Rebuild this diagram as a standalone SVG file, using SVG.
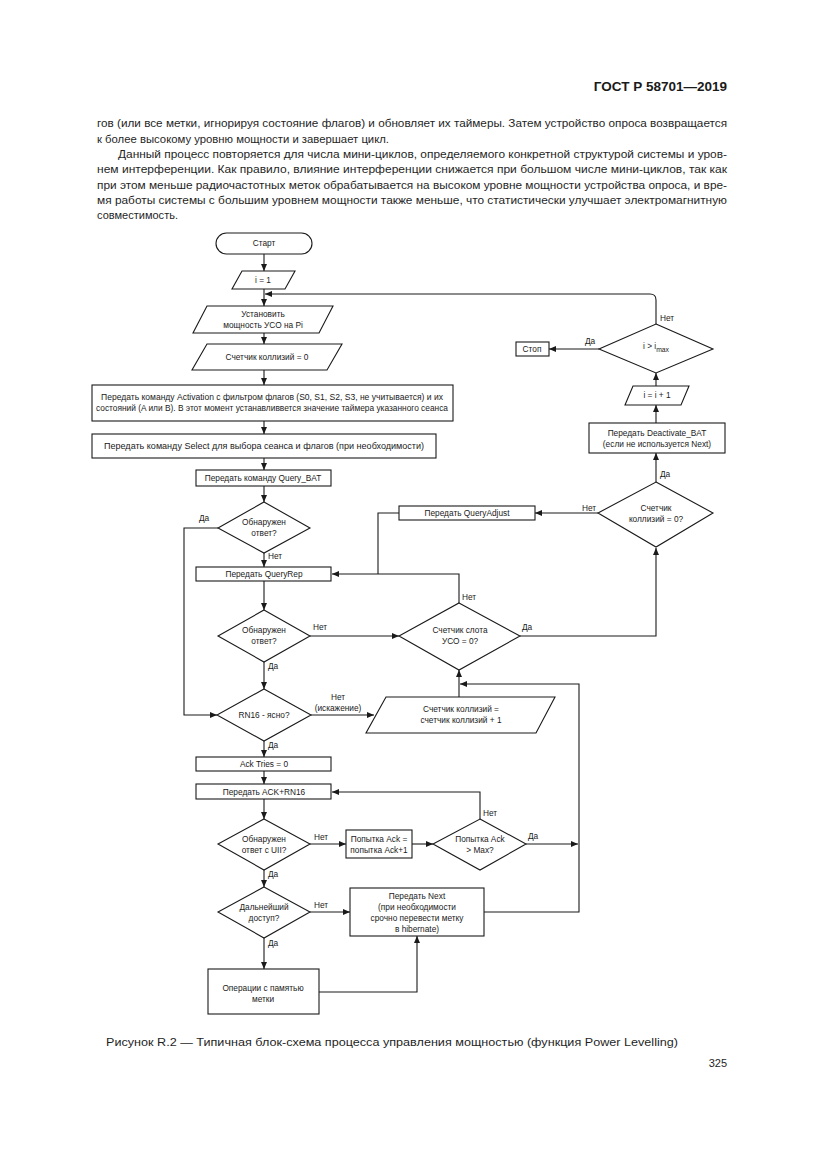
<svg xmlns="http://www.w3.org/2000/svg" width="826" height="1169" viewBox="0 0 826 1169">
<style>
.bg{fill:#fff}
.n{fill:#fff;stroke:#1a1a1a;stroke-width:1.1}
.c{fill:none;stroke:#1a1a1a;stroke-width:1.1}
.t{font-family:"Liberation Sans",Arial,sans-serif;font-size:8.3px;fill:#1a1a1a;text-anchor:middle}
.l{font-family:"Liberation Sans",Arial,sans-serif;font-size:8.3px;fill:#1a1a1a;text-anchor:start}
.b{font-family:"Liberation Sans",Arial,sans-serif;font-size:11px;fill:#1f1f1f}
.h{font-family:"Liberation Sans",Arial,sans-serif;font-size:13.5px;font-weight:bold;fill:#1a1a1a;text-anchor:end}
</style>
<defs>
<marker id="a" markerUnits="userSpaceOnUse" markerWidth="7" markerHeight="6" refX="7" refY="3" orient="auto">
<path d="M0,0 L7,3 L0,6 z" fill="#1a1a1a"/>
</marker>
</defs>
<rect class="bg" x="0" y="0" width="826" height="1169"/>

<g id="page-text">
<text class="h" x="727" y="91">ГОСТ Р 58701—2019</text>
<text class="b" x="97" y="127" textLength="630" lengthAdjust="spacingAndGlyphs">гов (или все метки, игнорируя состояние флагов) и обновляет их таймеры. Затем устройство опроса возвращается</text>
<text class="b" x="97" y="143" textLength="292" lengthAdjust="spacingAndGlyphs">к более высокому уровню мощности и завершает цикл.</text>
<text class="b" x="118" y="158" textLength="609" lengthAdjust="spacingAndGlyphs">Данный процесс повторяется для числа мини-циклов, определяемого конкретной структурой системы и уров-</text>
<text class="b" x="97" y="173" textLength="630" lengthAdjust="spacingAndGlyphs">нем интерференции. Как правило, влияние интерференции снижается при большом числе мини-циклов, так как</text>
<text class="b" x="97" y="189" textLength="630" lengthAdjust="spacingAndGlyphs">при этом меньше радиочастотных меток обрабатывается на высоком уровне мощности устройства опроса, и вре-</text>
<text class="b" x="97" y="204" textLength="630" lengthAdjust="spacingAndGlyphs">мя работы системы с большим уровнем мощности также меньше, что статистически улучшает электромагнитную</text>
<text class="b" x="97" y="219" textLength="81" lengthAdjust="spacingAndGlyphs">совместимость.</text>
<text class="b" x="106" y="1046" textLength="572" lengthAdjust="spacingAndGlyphs">Рисунок R.2 — Типичная блок-схема процесса управления мощностью (функция Power Levelling)</text>
<text class="b" x="727" y="1067" text-anchor="end">325</text>
</g>

<g id="connectors">
<path class="c" d="M264,254 V271" marker-end="url(#a)"/>
<path class="c" d="M264,289 V306" marker-end="url(#a)"/>
<path class="c" d="M656,324 V300 Q656,294 650,294 H265" marker-end="url(#a)"/>
<path class="c" d="M264,333 V344" marker-end="url(#a)"/>
<path class="c" d="M264,370 V385" marker-end="url(#a)"/>
<path class="c" d="M264,421 V434" marker-end="url(#a)"/>
<path class="c" d="M264,458 V470" marker-end="url(#a)"/>
<path class="c" d="M264,486 V502" marker-end="url(#a)"/>
<path class="c" d="M264,553 V567" marker-end="url(#a)"/>
<path class="c" d="M218,528 H184 V715 H217" marker-end="url(#a)"/>
<path class="c" d="M264,581 V610" marker-end="url(#a)"/>
<path class="c" d="M310,636 H399" marker-end="url(#a)"/>
<path class="c" d="M264,662 V689" marker-end="url(#a)"/>
<path class="c" d="M311,715 H374" marker-end="url(#a)"/>
<path class="c" d="M264,741 V757" marker-end="url(#a)"/>
<path class="c" d="M264,771 V784" marker-end="url(#a)"/>
<path class="c" d="M264,799 V819" marker-end="url(#a)"/>
<path class="c" d="M310,844 H346" marker-end="url(#a)"/>
<path class="c" d="M412,844 H433" marker-end="url(#a)"/>
<path class="c" d="M480,819 V792 H332" marker-end="url(#a)"/>
<path class="c" d="M526,844 H578" marker-end="url(#a)"/>
<path class="c" d="M264,870 V887" marker-end="url(#a)"/>
<path class="c" d="M310,912 H350" marker-end="url(#a)"/>
<path class="c" d="M264,938 V969" marker-end="url(#a)"/>
<path class="c" d="M319,992 H417 V936" marker-end="url(#a)"/>
<path class="c" d="M484,912 H579 V684 H460" marker-end="url(#a)"/>
<path class="c" d="M459,697 V670" marker-end="url(#a)"/>
<path class="c" d="M459,603 V574 H332" marker-end="url(#a)"/>
<path class="c" d="M399,513 H378 V574"/>
<path class="c" d="M520,636 H656 V548" marker-end="url(#a)"/>
<path class="c" d="M598,513 H535" marker-end="url(#a)"/>
<path class="c" d="M656,482 V453" marker-end="url(#a)"/>
<path class="c" d="M656,423 V405" marker-end="url(#a)"/>
<path class="c" d="M656,386 V373" marker-end="url(#a)"/>
<path class="c" d="M599,349 H549" marker-end="url(#a)"/>
<text class="l" x="199" y="521">Да</text>
<text class="l" x="268" y="559">Нет</text>
<text class="l" x="313" y="630">Нет</text>
<text class="l" x="268" y="669">Да</text>
<text class="t" x="338" y="700">Нет</text>
<text class="t" x="338" y="711">(искажение)</text>
<text class="l" x="268" y="748">Да</text>
<text class="l" x="314" y="840">Нет</text>
<text class="l" x="268" y="877">Да</text>
<text class="l" x="483" y="816">Нет</text>
<text class="l" x="528" y="839">Да</text>
<text class="l" x="314" y="908">Нет</text>
<text class="l" x="268" y="946">Да</text>
<text class="l" x="462" y="600">Нет</text>
<text class="l" x="522" y="630">Да</text>
<text class="l" x="582" y="511">Нет</text>
<text class="l" x="660" y="477">Да</text>
<text class="l" x="585" y="344">Да</text>
<text class="l" x="660" y="321">Нет</text>
</g>

<g id="start"><rect class="n" x="216" y="233" width="96" height="21" rx="10.5"/><text class="t" x="264" y="246">Старт</text></g>
<g id="i1"><polygon class="n" points="242,271 295,271 285,289 232,289"/><text class="t" x="263" y="283">i = 1</text></g>
<g id="setpower"><polygon class="n" points="207,306 333,306 319,333 193,333"/><text class="t" x="263" y="317">Установить</text><text class="t" x="263" y="328">мощность УСО на Pi</text></g>
<g id="collzero"><polygon class="n" points="207,344 342,344 327,370 192,370"/><text class="t" x="267" y="360">Счетчик коллизий = 0</text></g>
<g id="activation"><rect class="n" x="92" y="385" width="361" height="36"/><text class="t" x="272" y="400" textLength="342" lengthAdjust="spacingAndGlyphs">Передать команду Activation с фильтром флагов (S0, S1, S2, S3, не учитывается) и их</text><text class="t" x="272" y="411" textLength="352" lengthAdjust="spacingAndGlyphs">состояний (A или B). В этот момент устанавливвется значение таймера указанного сеанса</text></g>
<g id="select"><rect class="n" x="92" y="434" width="344" height="24"/><text class="t" x="264" y="449" textLength="320" lengthAdjust="spacingAndGlyphs">Передать команду Select для выбора сеанса и флагов (при необходимости)</text></g>
<g id="querybat"><rect class="n" x="196" y="470" width="135" height="16"/><text class="t" x="263" y="481">Передать команду Query_BAT</text></g>
<g id="d1"><polygon class="n" points="264,502 310,528 264,553 218,528"/><text class="t" x="264" y="525">Обнаружен</text><text class="t" x="264" y="536">ответ?</text></g>
<g id="queryrep"><rect class="n" x="196" y="567" width="135" height="14"/><text class="t" x="264" y="577">Передать QueryRep</text></g>
<g id="d2"><polygon class="n" points="264,610 310,636 264,662 218,636"/><text class="t" x="264" y="633">Обнаружен</text><text class="t" x="264" y="644">ответ?</text></g>
<g id="rn16"><polygon class="n" points="264,689 311,715 264,741 217,715"/><text class="t" x="264" y="718">RN16 - ясно?</text></g>
<g id="collinc"><polygon class="n" points="386,697 555,697 536,733 366,733"/><text class="t" x="461" y="712">Счетчик коллизий =</text><text class="t" x="461" y="723">счетчик коллизий + 1</text></g>
<g id="acktries"><rect class="n" x="196" y="757" width="135" height="14"/><text class="t" x="264" y="767">Ack Tries = 0</text></g>
<g id="ackrn16"><rect class="n" x="196" y="784" width="135" height="15"/><text class="t" x="264" y="795">Передать ACK+RN16</text></g>
<g id="d3"><polygon class="n" points="264,819 310,844 264,870 218,844"/><text class="t" x="264" y="842">Обнаружен</text><text class="t" x="264" y="853">ответ с UII?</text></g>
<g id="ackinc"><rect class="n" x="346" y="830" width="66" height="28"/><text class="t" x="379" y="842">Попытка Ack =</text><text class="t" x="379" y="853">попытка Ack+1</text></g>
<g id="d4"><polygon class="n" points="480,819 526,844 480,870 433,844"/><text class="t" x="480" y="842">Попытка Ack</text><text class="t" x="480" y="853">&gt; Max?</text></g>
<g id="d5"><polygon class="n" points="264,887 310,912 264,938 218,912"/><text class="t" x="264" y="910">Дальнейший</text><text class="t" x="264" y="921">доступ?</text></g>
<g id="next"><rect class="n" x="350" y="888" width="134" height="48"/><text class="t" x="417" y="899">Передать Next</text><text class="t" x="417" y="910">(при необходимости</text><text class="t" x="417" y="921">срочно перевести метку</text><text class="t" x="417" y="932">в hibernate)</text></g>
<g id="memops"><rect class="n" x="208" y="969" width="111" height="45"/><text class="t" x="263" y="991">Операции с памятью</text><text class="t" x="263" y="1002">метки</text></g>
<g id="slot"><polygon class="n" points="459,603 520,636 459,670 399,636"/><text class="t" x="460" y="633">Счетчик слота</text><text class="t" x="460" y="644">УСО = 0?</text></g>
<g id="queryadjust"><rect class="n" x="399" y="506" width="136" height="14"/><text class="t" x="467" y="516">Передать QueryAdjust</text></g>
<g id="collcheck"><polygon class="n" points="656,482 713,513 656,547 598,513"/><text class="t" x="656" y="511">Счетчик</text><text class="t" x="656" y="522">коллизий = 0?</text></g>
<g id="deactivate"><rect class="n" x="589" y="423" width="136" height="30"/><text class="t" x="657" y="436">Передать Deactivate_BAT</text><text class="t" x="657" y="447">(если не используется Next)</text></g>
<g id="iinc"><polygon class="n" points="633,386 689,386 681,405 625,405"/><text class="t" x="657" y="398">i = i + 1</text></g>
<g id="imax"><polygon class="n" points="656,324 713,349 656,373 599,349"/><text class="t" x="656" y="349">i &gt; i<tspan font-size="6.8px" dy="3">max</tspan></text></g>
<g id="stop"><rect class="n" x="516" y="342" width="33" height="14"/><text class="t" x="532" y="352">Стоп</text></g>
</svg>
